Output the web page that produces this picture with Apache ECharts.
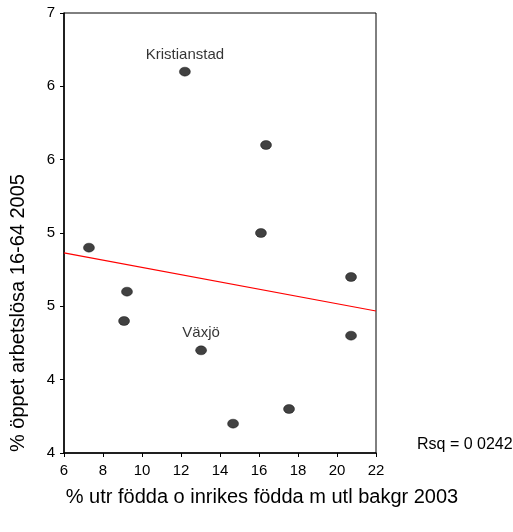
<!DOCTYPE html>
<html>
<head>
<meta charset="utf-8">
<script src="https://cdn.jsdelivr.net/npm/echarts@6/dist/echarts.min.js"></script>
<style>
  html, body { margin: 0; padding: 0; background: #fff; }
  #chart { width: 513px; height: 532px; }
</style>
</head>
<body>
<div id="chart"></div>
<script>
// data
var xValues = [7.28, 9.23, 9.08, 12.2, 13.03, 14.67, 16.36, 16.1, 17.54, 20.72, 20.72];
var yValues = [5.4, 5.1, 4.9, 6.6, 4.7, 4.2, 6.1, 5.5, 4.3, 5.2, 4.8];
var pointNames = ['', '', '', 'Kristianstad', 'Växjö', '', '', '', '', '', ''];
var fitX = [6, 22];
var fitY = [5.365, 4.968];
var yTickLabels = ['4', '4', '5', '5', '6', '6', '7'];

var font = 'Liberation Sans, Arial, sans-serif';
var myChart = echarts.init(document.getElementById('chart'));

var points = [];
for (var i = 0; i < xValues.length; i++) {
  points.push({ name: pointNames[i], value: [xValues[i], yValues[i]] });
}

myChart.setOption({
  animation: false,
  grid: {
    left: 64, top: 13, right: 137, bottom: 79,
    show: true, borderColor: '#000', borderWidth: 1
  },
  xAxis: {
    type: 'value', min: 6, max: 22, interval: 2,
    axisLine: { lineStyle: { color: '#000', width: 1.5 } },
    axisTick: { show: true, length: 4, lineStyle: { color: '#000' } },
    axisLabel: { color: '#000', fontSize: 15, fontFamily: font, margin: 10 },
    splitLine: { show: false }
  },
  yAxis: {
    type: 'value', min: 4, max: 7, interval: 0.5,
    axisLine: { show: true, lineStyle: { color: '#000', width: 1.5 } },
    axisTick: { show: true, length: 4, lineStyle: { color: '#000' } },
    axisLabel: {
      color: '#000', fontSize: 15, fontFamily: font, margin: 9,
      formatter: function (v, idx) { return yTickLabels[idx]; }
    },
    splitLine: { show: false }
  },
  series: [
    {
      type: 'scatter',
      data: points,
      symbol: 'circle',
      symbolSize: [11, 9],
      itemStyle: { color: '#111', borderColor: '#000', borderWidth: 0.5 },
      label: {
        show: true, position: 'top', distance: 5,
        formatter: function (p) { return p.name; },
        color: '#000', fontSize: 15, fontFamily: font
      },
      z: 3
    },
    {
      type: 'line',
      data: [[fitX[0], fitY[0]], [fitX[1], fitY[1]]],
      symbol: 'none',
      lineStyle: { color: '#ff0000', width: 1.2 },
      z: 2
    }
  ],
  graphic: [
    {
      type: 'text', x: 18, y: 313, rotation: Math.PI / 2,
      style: {
        text: '% öppet arbetslösa 16-64 2005',
        fill: '#000', font: '20px ' + font,
        textAlign: 'center', textVerticalAlign: 'middle'
      }
    },
    {
      type: 'text', x: 262, y: 497,
      style: {
        text: '% utr födda o inrikes födda m utl bakgr 2003',
        fill: '#000', font: '20px ' + font,
        textAlign: 'center', textVerticalAlign: 'middle'
      }
    },
    {
      type: 'text', x: 417, y: 445,
      style: {
        text: 'Rsq = 0 0242',
        fill: '#000', font: '16px ' + font,
        textVerticalAlign: 'middle'
      }
    }
  ]
});
</script>
</body>
</html>
